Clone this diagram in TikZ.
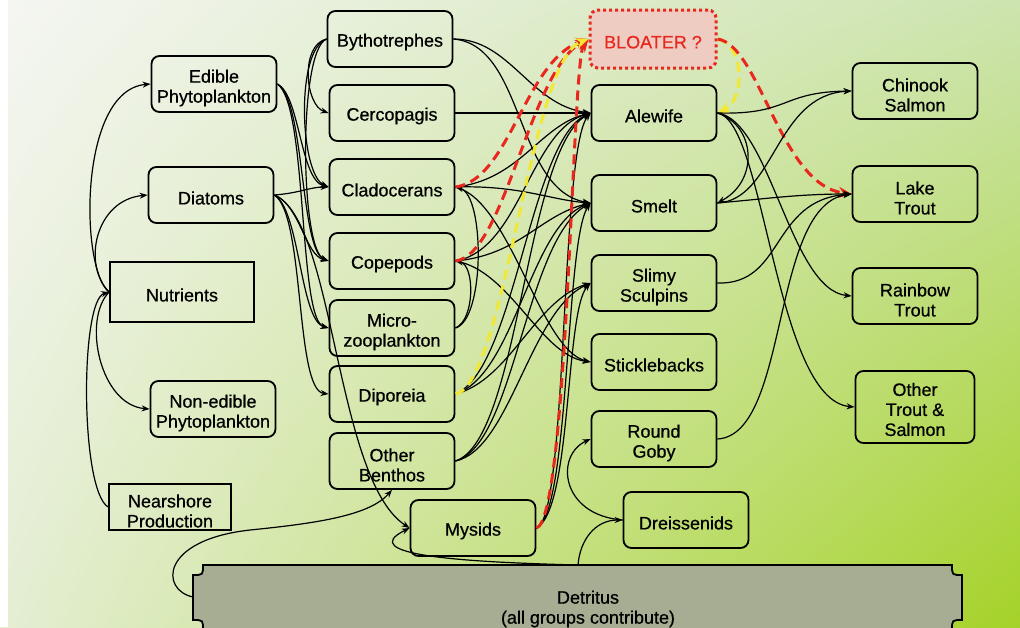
\documentclass[tikz,border=0pt]{standalone}
\usepackage{fontspec}
\setmainfont{Liberation Sans}[FakeBold=0.6]
\usepackage{tikz}
\usetikzlibrary{shapes.geometric, arrows, arrows.meta, backgrounds, shadings}
\usetikzlibrary{positioning, shapes}
\definecolor{bgtl}{RGB}{245,246,242}
\definecolor{bgtr}{RGB}{205,228,175}
\definecolor{bgbl}{RGB}{228,238,212}
\definecolor{bgbr}{RGB}{165,210,40}
\definecolor{bloaterred}{RGB}{232,40,30}
\definecolor{bloaterfill}{RGB}{238,204,194}
\definecolor{bloateryellow}{RGB}{242,232,50}
\definecolor{detritusgray}{RGB}{166,173,146}
\tikzstyle{group} = [rectangle, rounded corners=8pt, minimum width=125pt, minimum height=56pt, align=center, draw=black, line width=1.8pt]
\tikzstyle{source} = [rectangle, minimum width=144pt, minimum height=60pt, align=center, draw=black, line width=1.8pt]
\tikzstyle{guess} = [rectangle, rounded corners=8pt, minimum width=126pt, minimum height=58pt, align=center, draw=bloaterred, fill=bloaterfill, text=bloaterred, line width=3pt, dash pattern=on 3pt off 3pt]
\tikzstyle{oneline} = [text height=19pt]
\tikzstyle{twoline} = [text height=41pt]
\tikzstyle{arrow} = [line width=1.2pt,->,>={Stealth[length=8pt,width=6pt]}]
\tikzstyle{redarrow} = [line width=3pt, dash pattern=on 10pt off 6pt, ->, >={Stealth[length=13pt,width=11pt]}, draw=bloaterred]
\tikzstyle{yellowarrow} = [line width=3pt, dash pattern=on 10pt off 6pt, ->, >={Stealth[length=13pt,width=11pt]}, draw=bloateryellow]

\begin{document}
\begin{tikzpicture}[x=1pt, y=-1pt, node distance=74pt, font=\fontsize{18}{20}\selectfont]
        \useasboundingbox (0,0) rectangle (1020,627);
        \clip (0,0) rectangle (1020,627);
        \shade [upper left=bgtl, upper right=bgtr, lower left=bgbl, lower right=bgbr] (0,0) rectangle (1020,627);
        \fill [white] (0,0) rectangle (8,627);
        % detritus plate with notched corners
        \draw [line width=1.8pt, fill=detritusgray] (203,565) -- (952,565) .. controls (952,575) .. (962,575)
            -- (962,620) .. controls (952,620) .. (952,630) -- (203,630) .. controls (203,620) .. (193,620)
            -- (193,575) .. controls (203,575) .. (203,565) -- cycle;

        % primary producers
        \node (edible) [group, twoline] at (214,84) {Edible\\Phytoplankton};
        \node (diatoms) [group, oneline] at (211,195) {Diatoms};
        \node (nutrients) [source, oneline] at (182,292) {Nutrients};
        \node (nonedible) [group, twoline] at (213,409) {Non-edible\\Phytoplankton};
        \node (nearshore) [source, twoline, minimum width=122pt, minimum height=46pt, inner ysep=0pt] at (170,507) {Nearshore\\Production};

        % grazers and benthos
        \node (bytho) [group, oneline] at (390,39) {Bythotrephes};
        \node (cercop) [group, oneline, below of=bytho, xshift=2pt] {Cercopagis};
        \node (clado) [group, oneline, below of=cercop] {Cladocerans};
        \node (copep) [group, oneline, below of=clado] {Copepods};
        \node (micro) [group, twoline, below of=copep, yshift=7pt] {Micro-\\zooplankton};
        \node (dipor) [group, oneline, below of=micro, yshift=8pt] {Diporeia};
        \node (benthos) [group, twoline, below of=dipor, yshift=7pt] {Other\\Benthos};
        \node (mysids) [group, oneline, below of=benthos, xshift=81pt, yshift=7pt] {Mysids};

        % forage fish
        \node (bloater) [guess, oneline] at (653,39) {BLOATER ?};
        \node (alewife) [group, oneline, below of=bloater, xshift=1pt] {Alewife};
        \node (smelt) [group, oneline, below of=alewife, yshift=-16pt] {Smelt};
        \node (sculpin) [group, twoline, below of=smelt, yshift=-6pt] {Slimy\\Sculpins};
        \node (stickle) [group, oneline, below of=sculpin, yshift=-5pt] {Sticklebacks};
        \node (goby) [group, twoline, below of=stickle, yshift=-3pt] {Round\\Goby};
        \node (dreiss) [group, oneline, below of=goby, xshift=32pt, yshift=-7pt] {Dreissenids};

        % predators
        \node (chinook) [group, twoline] at (915,91) {Chinook\\Salmon};
        \node (laketrout) [group, twoline, below of=chinook, yshift=-29pt] {Lake\\Trout};
        \node (rainbow) [group, twoline, below of=laketrout, yshift=-28pt] {Rainbow\\Trout};
        \node (othertrout) [group, text height=58pt, below of=rainbow, yshift=-37pt, minimum width=119pt, minimum height=72pt] {Other\\Trout \&\\Salmon};

        \node (detritus) [align=center] at (588,609) {Detritus\\(all groups contribute)};
        \coordinate (detleft) at (193,597);
        \coordinate (dettop) at (578,565);

        % nutrients
        \draw [arrow] (nutrients.west) .. controls (80,270) and (78,90) .. (edible.west);
        \draw [arrow] (nutrients.west) .. controls (82,265) and (95,200) .. (diatoms.west);
        \draw [arrow] (nutrients.west) .. controls (82,320) and (100,405) .. (nonedible.west);
        \draw [arrow] (nearshore.west) .. controls (80,490) and (80,300) .. (nutrients.west);

        % phytoplankton to grazers
        \draw [arrow] (edible.east) .. controls (300,95) and (300,180) .. (clado.west);
        \draw [arrow] (edible.east) .. controls (305,100) and (300,250) .. (copep.west);
        \draw [arrow] (edible.east) .. controls (308,105) and (298,320) .. (micro.west);
        \draw [arrow] (diatoms.east) .. controls (300,193) and (310,187) .. (clado.west);
        \draw [arrow] (diatoms.east) .. controls (300,205) and (305,255) .. (copep.west);
        \draw [arrow] (diatoms.east) .. controls (300,210) and (300,320) .. (micro.west);
        \draw [arrow] (diatoms.east) .. controls (305,215) and (295,390) .. (dipor.west);
        \draw [arrow] (diatoms.east) .. controls (335,220) and (335,480) .. (mysids.west);
        \draw [arrow] (bytho.west) .. controls (300,45) and (305,105) .. (cercop.west);
        \draw [arrow] (bytho.west) .. controls (295,50) and (300,175) .. (clado.west);
        \draw [arrow] (bytho.west) .. controls (298,50) and (300,250) .. (copep.west);

        % grazers to fish
        \draw [arrow] (bytho.east) .. controls (510,39) and (530,105) .. (alewife.west);
        \draw [arrow] (bytho.east) .. controls (525,45) and (515,190) .. (smelt.west);
        \draw [arrow] (cercop.east) -- (alewife.west);
        \draw [arrow] (clado.east) .. controls (520,180) and (540,125) .. (alewife.west);
        \draw [arrow] (clado.east) .. controls (520,185) and (550,200) .. (smelt.west);
        \draw [arrow] (clado.east) .. controls (510,200) and (540,350) .. (stickle.west);
        \draw [arrow] (copep.east) .. controls (520,250) and (530,130) .. (alewife.west);
        \draw [arrow] (copep.east) .. controls (520,255) and (540,215) .. (smelt.west);
        \draw [arrow] (copep.east) .. controls (510,270) and (540,355) .. (stickle.west);
        \draw [arrow] (micro.east) .. controls (485,320) and (485,195) .. (clado.east);
        \draw [arrow] (micro.east) .. controls (475,320) and (475,265) .. (copep.east);
        \draw [arrow] (dipor.east) .. controls (515,370) and (530,140) .. (alewife.west);
        \draw [arrow] (dipor.east) .. controls (515,375) and (530,225) .. (smelt.west);
        \draw [arrow] (dipor.east) .. controls (510,380) and (535,300) .. (sculpin.west);
        \draw [arrow] (benthos.east) .. controls (520,440) and (525,150) .. (alewife.west);
        \draw [arrow] (benthos.east) .. controls (515,445) and (525,240) .. (smelt.west);
        \draw [arrow] (benthos.east) .. controls (510,450) and (530,310) .. (sculpin.west);
        \draw [arrow] (mysids.east) .. controls (568,520) and (560,150) .. (alewife.west);
        \draw [arrow] (mysids.east) .. controls (570,515) and (565,240) .. (smelt.west);
        \draw [arrow] (mysids.east) .. controls (572,510) and (565,310) .. (sculpin.west);

        % bloater links
        \draw [redarrow] (clado.east) .. controls (510,180) and (525,60) .. (bloater.west);
        \draw [redarrow] (copep.east) .. controls (505,255) and (530,70) .. (bloater.west);
        \draw [redarrow] (mysids.east) .. controls (568,520) and (572,60) .. (bloater.west);
        \draw [yellowarrow] (dipor.east) .. controls (505,385) and (530,60) .. (bloater.west);
        \draw [yellowarrow] (bloater.east) .. controls (745,45) and (745,100) .. (alewife.east);
        \draw [redarrow] (bloater.east) .. controls (760,45) and (780,185) .. (laketrout.west);

        % fish to predators
        \draw [arrow] (alewife.east) .. controls (790,115) and (780,92) .. (chinook.west);
        \draw [arrow] (alewife.east) .. controls (755,125) and (760,180) .. (smelt.east);
        \draw [arrow] (alewife.east) .. controls (770,120) and (790,290) .. (rainbow.west);
        \draw [arrow] (alewife.east) .. controls (765,120) and (775,400) .. (othertrout.west);
        \draw [arrow] (smelt.east) .. controls (775,200) and (775,95) .. (chinook.west);
        \draw [arrow] (smelt.east) to[out=5,in=180] (laketrout.west);
        \draw [arrow] (sculpin.east) .. controls (785,285) and (770,200) .. (laketrout.west);
        \draw [arrow] (goby.east) .. controls (790,435) and (770,205) .. (laketrout.west);

        % detritus
        \draw [arrow] (detleft) .. controls (160,590) and (160,540) .. (250,530) .. controls (320,523) and (370,515) .. (benthos.south);
        \draw [arrow] (dettop) .. controls (460,562) and (355,555) .. (mysids.west);
        \draw [arrow] (dettop) .. controls (580,540) and (595,520) .. (dreiss.west);
        \draw [arrow] (dreiss.west) .. controls (560,515) and (555,455) .. (goby.west);

        \end{tikzpicture}
\end{document}
